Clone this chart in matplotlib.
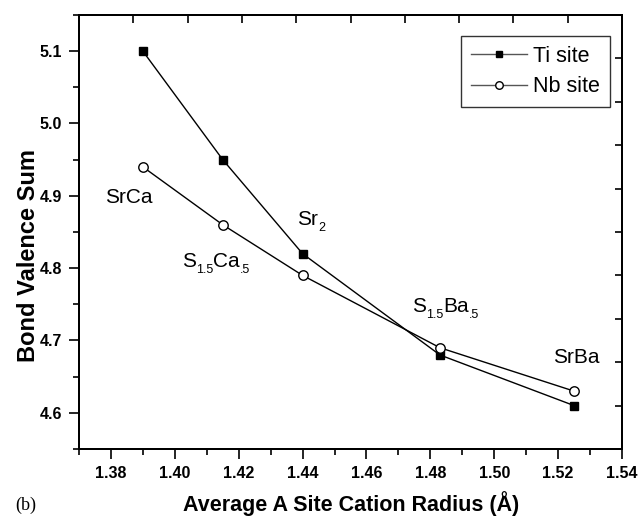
import matplotlib
matplotlib.use("Agg")
import matplotlib.pyplot as plt
import numpy as np
from matplotlib.ticker import FixedLocator, NullFormatter
from matplotlib.transforms import offset_copy

plt.rcParams['font.family'] = ['Liberation Sans', 'DejaVu Sans']

# Average A-site cation radius (Å) and bond valence sums
radius = [1.39, 1.415, 1.44, 1.483, 1.525]
ti_site = [5.10, 4.95, 4.82, 4.68, 4.61]
nb_site = [4.94, 4.86, 4.79, 4.69, 4.63]

# Axis ticks and their labels
x_ticks = [1.38, 1.40, 1.42, 1.44, 1.46, 1.48, 1.50, 1.52, 1.54]
x_tick_labels = ["1.38", "1.40", "1.42", "1.44", "1.46", "1.48", "1.50", "1.52", "1.54"]
y_ticks = [4.6, 4.7, 4.8, 4.9, 5.0, 5.1]
y_tick_labels = ["4.6", "4.7", "4.8", "4.9", "5.0", "5.1"]
x_minor = [1.37, 1.39, 1.41, 1.43, 1.45, 1.47, 1.49, 1.51, 1.53]
y_minor = [4.55, 4.65, 4.75, 4.85, 4.95, 5.05, 5.15]

# Composition labels as (text, is_subscript) pieces, with their anchor
# (left edge of the first piece, baseline) in data coordinates
comp_labels = [
    [("SrCa", False)],
    [("S", False), ("1.5", True), ("Ca", False), (".5", True)],
    [("Sr", False), ("2", True)],
    [("S", False), ("1.5", True), ("Ba", False), (".5", True)],
    [("SrBa", False)],
]
label_x = [1.3781, 1.4022, 1.4383, 1.4743, 1.5184]
label_y = [4.890, 4.8016, 4.8597, 4.7394, 4.669]

fig = plt.figure(figsize=(6.43, 5.16), dpi=100)
ax = fig.add_axes([79/643, 67/516, 543/643, 434/516])

# Unlabelled tick marks on the top and right frame
ax_top = ax.twiny()
ax_right = ax.twinx()

ax.plot(radius, ti_site, color='black', lw=1.0, marker='s', ms=6.2,
        mfc='black', mec='black', label='Ti site', zorder=3)
ax.plot(radius, nb_site, color='black', lw=1.0, marker='o', ms=6.8,
        mfc='white', mec='black', mew=1.0, label='Nb site', zorder=3)

tick_font = dict(fontsize=11.5, fontweight='bold')
ax.set_xticks(x_ticks, labels=x_tick_labels, **tick_font)
ax.set_yticks(y_ticks, labels=y_tick_labels, **tick_font)
ax.set_xticks(x_minor, minor=True)
ax.set_yticks(y_minor, minor=True)
ax.set_xlim(1.37, 1.54)
ax.set_ylim(4.55, 5.15)

ax.tick_params(axis='both', which='major', direction='out', length=7, width=1.2,
               pad=5, top=False, right=False)
ax.tick_params(axis='both', which='minor', direction='out', length=4, width=1.2,
               top=False, right=False)

ax_top.set_xlim(0, 1)
ax_top.xaxis.set_major_locator(FixedLocator(np.arange(1, 10) / 10))
ax_top.xaxis.set_major_formatter(NullFormatter())
ax_top.tick_params(axis='x', direction='in', length=6, width=1.2)
ax_right.set_ylim(0, 1)
ax_right.yaxis.set_major_locator(FixedLocator(np.arange(1, 10) / 10))
ax_right.yaxis.set_major_formatter(NullFormatter())
ax_right.tick_params(axis='y', direction='in', length=5, width=1.2)
for a in (ax, ax_top, ax_right):
    for sp in a.spines.values():
        sp.set_linewidth(1.3)

leg = ax_right.legend(*ax.get_legend_handles_labels(), loc='upper right',
                      bbox_to_anchor=(0.978, 0.9516),
                      frameon=True, fancybox=False, edgecolor='black',
                      fontsize=15.5, handlelength=2.6, handletextpad=0.3,
                      borderpad=0.45, borderaxespad=0, labelspacing=0.45,
                      markerscale=0.8)
leg.get_frame().set_linewidth(1.0)
for h in leg.get_lines():
    h.set_color('#555555')
    h.set_markeredgecolor('black')
leg.get_lines()[0].set_markerfacecolor('black')
leg.get_lines()[1].set_markerfacecolor('white')

fig.text(351/643, 1 - 511/516, "Average A Site Cation Radius (Å)",
         fontsize=15.5, fontweight='bold', ha='center', va='baseline')
fig.text(29/643, 1 - 255/516, "Bond Valence Sum", rotation=90,
         fontsize=17, fontweight='bold', ha='center', va='center')
fig.text(15/643, 1 - 510/516, "(b)", fontsize=13,
         family=['Liberation Serif', 'DejaVu Serif'], ha='left', va='baseline')

fig.canvas.draw()
renderer = fig.canvas.get_renderer()

# Composition labels with subscripts, laid out piece by piece
for pieces, x, y in zip(comp_labels, label_x, label_y):
    dx = 0.0
    for txt, sub in pieces:
        size = 9 if sub else 15
        dy = -6 if sub else 0
        tr = offset_copy(ax.transData, fig=fig, x=dx, y=dy, units='dots')
        t = ax.text(x, y, txt, fontsize=size, ha='left', va='baseline',
                    color='black', transform=tr)
        dx += t.get_window_extent(renderer).width

fig.savefig("out.png", dpi=100)
